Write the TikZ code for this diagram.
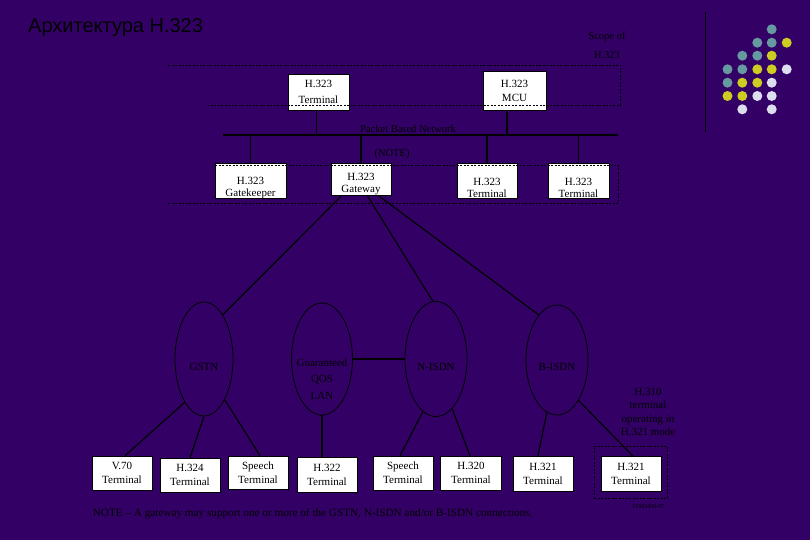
\documentclass[tikz,border=0pt]{standalone}
\usepackage{fontspec}
\setmainfont{Liberation Serif}
\newfontfamily\arialfont{Liberation Sans}
\usetikzlibrary{shapes.geometric}
\definecolor{bgpurple}{RGB}{51,0,102}
\definecolor{dotteal}{RGB}{102,153,160}
\definecolor{dotyellow}{RGB}{204,204,34}
\definecolor{dotlav}{RGB}{221,221,240}
\begin{document}
\begin{tikzpicture}[x=1pt,y=-1pt,
  box/.style={draw=black, line width=0.6pt, fill=white, align=center, inner sep=0pt, font=\fontsize{11}{14}\selectfont},
  lowbox/.style={draw=black, line width=0.6pt, fill=white, inner sep=0pt},
  lowtext/.style={label distance=0pt, yshift=-7.5pt, align=center, inner sep=0pt, text=black, font=\fontsize{11}{12}\selectfont},
  net/.style={ellipse, draw=black, line width=0.8pt, inner sep=0pt},
  nettext/.style={label distance=0pt, align=center, inner sep=0pt, text=black, font=\fontsize{11}{16.5}\selectfont},
  conn/.style={draw=black, line width=1.2pt},
  scopeline/.style={draw=black, line width=0.6pt, dash pattern=on 2pt off 1.5pt},
  lbl/.style={inner sep=0pt, align=center, text=black, font=\fontsize{10.5}{13.5}\selectfont}
]
% background
\fill[bgpurple] (0,0) rectangle (810,540);

% title
\node[inner sep=0pt, anchor=west, text=black, font=\arialfont\fontsize{20}{24}\selectfont] (title) at (28,28) {Архитектура H.323};

% logo dots and rule
\draw[black, line width=0.8pt] (705.7,12) -- (705.7,132);
\foreach \x/\y in {771.7/29.3, 757.3/42.7, 771.7/42.7, 742.3/55.7, 757.3/55.7, 727.5/69.3, 742.3/69.3, 727.5/82.7}
  \fill[dotteal] (\x,\y) circle (5pt);
\foreach \x/\y in {786.7/42.7, 771.7/55.7, 757.3/69.3, 771.7/69.3, 742.3/82.7, 757.3/82.7, 727.5/96, 742.3/96}
  \fill[dotyellow] (\x,\y) circle (5pt);
\foreach \x/\y in {786.7/69.3, 771.7/82.7, 757.3/96, 771.7/96, 742.3/109.3, 771.7/109.3}
  \fill[dotlav] (\x,\y) circle (5pt);

% scope label
\node[lbl, font=\fontsize{10.5}{19}\selectfont] (scopelbl) at (607,45) {Scope of\\H.323};

% top boxes
\node[box, minimum width=61pt, minimum height=36pt, font=\fontsize{11}{16}\selectfont] (term1) at (318.5,92) {H.323\\Terminal};
\node[box, minimum width=63pt, minimum height=39pt] (mcu) at (514.5,90.5) {H.323\\MCU};

% bus
\coordinate (busL) at (223,135);
\coordinate (busR) at (618,135);
\draw[conn] (busL) -- (busR);
\node[lbl] (pbn) at (408,129) {Packet Based Network};
\node[lbl] (note1) at (392,154) {(NOTE)};

% lower row boxes
\node[lowbox, minimum width=71pt, minimum height=35pt, label={[lowtext]center:H.323\\Gatekeeper}] (gk) at (250.5,180.5) {};
\node[lowbox, minimum width=60pt, minimum height=32pt, label={[lowtext, yshift=2.5pt]center:H.323\\Gateway}] (gw) at (361,179) {};
\node[lowbox, minimum width=60pt, minimum height=35pt, label={[lowtext]center:H.323\\Terminal}] (term2) at (487,180.5) {};
\node[lowbox, minimum width=61pt, minimum height=35pt, label={[lowtext]center:H.323\\Terminal}] (term3) at (578.5,180.5) {};

% drops from bus
\draw[conn, line width=1.6pt] ([xshift=-2pt]term1.south) -- ([xshift=-2pt]term1.south |- busL);
\draw[conn] ([xshift=-7.5pt]mcu.south) -- ([xshift=-7.5pt]mcu.south |- busL);
\draw[conn] (gk.north) -- (gk.north |- busL);
\draw[conn] (gw.north) -- (gw.north |- busL);
\draw[conn] (term2.north) -- (term2.north |- busL);
\draw[conn] (term3.north) -- (term3.north |- busL);

% scope boundary
\draw[scopeline] (168,65) -- (620,65) -- (620,105) -- (208,105);
\draw[scopeline] (215,165) -- (618,165) -- (618,203) -- (168,203);

% networks
\node[net, minimum width=58pt, minimum height=114pt, label={[nettext, yshift=-8pt]center:GSTN}] (gstn) at (204,359) {};
\node[net, minimum width=61pt, minimum height=112pt, label={[nettext, yshift=-20pt]center:Guaranteed\\QOS\\LAN}] (qos) at (322,359) {};
\node[net, minimum width=62pt, minimum height=115pt, label={[nettext, yshift=-8pt]center:N-ISDN}] (nisdn) at (436,359) {};
\node[net, minimum width=62pt, minimum height=110pt, label={[nettext, yshift=-7pt]center:B-ISDN}] (bisdn) at (557,360) {};

% gateway links
\draw[conn] ([xshift=-19pt]gw.south) -- (gstn.67.6);
\draw[conn] ([xshift=6pt]gw.south) -- (nisdn.93);
\draw[conn] ([xshift=17pt]gw.south) -- (bisdn.112);
\draw[conn, line width=2pt] (qos.east) -- (nisdn.west);

% terminals
\node[box, minimum width=60pt, minimum height=34pt] (v70) at (122,473) {V.70\\Terminal};
\node[box, minimum width=60pt, minimum height=34pt] (h324) at (190,475) {H.324\\Terminal};
\node[box, minimum width=60pt, minimum height=33pt] (sp1) at (258,472.5) {Speech\\Terminal};
\node[box, minimum width=60pt, minimum height=35pt] (h322) at (327,474.5) {H.322\\Terminal};
\node[box, minimum width=60pt, minimum height=34pt] (sp2) at (403,473) {Speech\\Terminal};
\node[box, minimum width=61pt, minimum height=34pt] (h320) at (471,473) {H.320\\Terminal};
\node[box, minimum width=60pt, minimum height=35pt] (h321) at (543,473.5) {H.321\\Terminal};
\node[box, minimum width=60pt, minimum height=35pt] (h321b) at (631,474) {H.321\\Terminal};
\node[draw=black, line width=0.8pt, dash pattern=on 2pt off 1.5pt, minimum width=73pt, minimum height=52pt, inner sep=0pt] (h321frame) at (630.8,472.2) {};

% network to terminal links
\draw[conn] (gstn.246) -- ([xshift=3pt]v70.north);
\draw[conn] (gstn.270) -- (h324.north);
\draw[conn] (gstn.-63.4) -- ([xshift=2pt]sp1.north);
\draw[conn] (qos.south) -- (qos.south |- h322.north);
\draw[conn] (nisdn.-104) -- ([xshift=-3pt]sp2.north);
\draw[conn] (nisdn.-72.6) -- ([xshift=-1pt]h320.north);
\draw[conn] (bisdn.-101) -- ([xshift=-5pt]h321.north);
\draw[conn] (bisdn.-62) -- ([xshift=2pt]h321b.north);

% H.310 note
\node[lbl, font=\fontsize{11}{13.5}\selectfont] (h310) at (648,412) {H.310\\terminal\\operating in\\H.321 mode};

% figure note
\node[lbl, anchor=west, font=\fontsize{11.2}{12}\selectfont] (fignote) at (92.7,513.3) {NOTE -- A gateway may support one or more of the GSTN, N-ISDN and/or B-ISDN connections.};
\node[lbl, font=\fontsize{6}{7}\selectfont] (figid) at (648,507) {T1603450-97};
\end{tikzpicture}
\end{document}
